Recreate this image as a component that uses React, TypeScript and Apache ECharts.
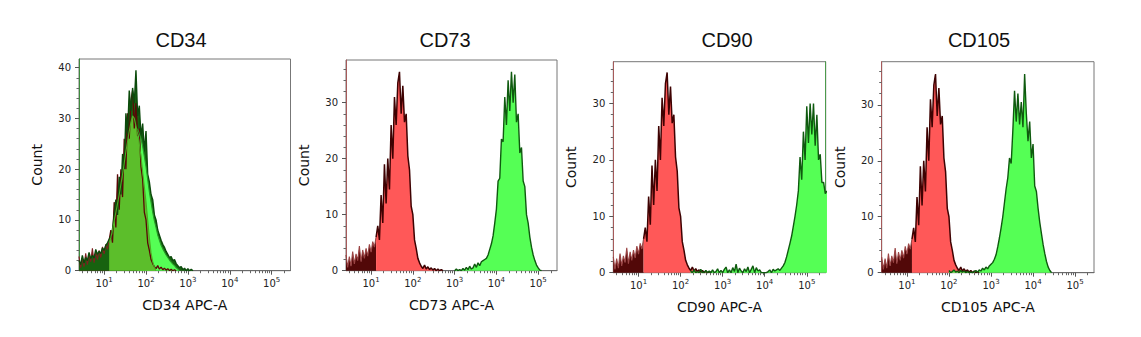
import React, { useEffect, useRef } from "react";
import * as echarts from "echarts";

// ---------- data (x = log10 of APC-A intensity, bin width 0.04 decade) ----------
const BIN = 0.04;
const titles = ["CD34", "CD73", "CD90", "CD105"];
const xNames = ["CD34 APC-A", "CD73 APC-A", "CD90 APC-A", "CD105 APC-A"];
const xTickDecades = [1, 2, 3, 4, 5];
const yTickLabelsCD34 = [0, 10, 20, 30, 40];
const yTickLabels = [0, 10, 20, 30];
const yMaxes = [41.7, 37.6, 37.4, 37.7];
const X_MIN = 0.4;
const X_MAX = 5.45;

// isotype control (red), shared by all panels
const isoLowStart = 0.4;
const isoLowCounts = [2.8, 0.6, 2.5, 0.8, 3.4, 1.2, 3.0, 1.8, 4.4, 1.6, 3.7, 2.2, 4.0, 2.6, 4.7, 3.3, 5.2, 4.2, 6.0];
const isoMainStart = 1.12;
const isoMainCounts = [
  6.0, 8.0, 5.5, 13.5, 8.5, 19.0, 12.0, 20.0, 14.5, 26.0, 20.0, 31.0, 26.0, 33.5, 35.5, 28.0, 33.0, 26.5, 28.0, 20.5,
  18.0, 11.5, 10.0, 5.5, 4.0, 2.2, 1.4, 0.8, 0.4, 1.0, 0.3, 0.7, 0.2, 0.5, 0.1, 0.4, 0, 0.3, 0, 0.2, 0,
];

// CD34 stained sample (green, overlapping the isotype)
const cd34EnvStart = 0.4;
const cd34EnvCounts = [
  2.0, 1.2, 3.0, 1.5, 2.6, 2.0, 3.6, 2.4, 3.0, 2.5, 4.2, 3.2, 3.8, 3.4, 4.5, 4.0, 5.0, 5.5, 6.2, 6.8, 8.2, 11.0, 14.0,
  11.0, 18.5, 15.0, 23.0, 20.0, 31.0, 27.0, 35.5, 31.5, 36.0, 33.0, 39.5, 30.5, 32.5, 26.5, 29.0, 23.5, 27.5, 19.0, 17.5,
  15.0, 14.0, 11.0, 10.0, 8.0, 7.0, 6.0, 5.2, 4.6, 3.8, 3.2, 2.6, 2.8, 2.0, 2.2, 1.4, 1.0, 0.6, 0.8, 0.2, 0.5, 0, 0.4, 0,
  0.3, 0,
];
const cd34MidStart = 1.12;
const cd34MidCounts = [
  5.5, 6.5, 8.0, 9.8, 11.5, 13.2, 15.0, 17.0, 19.0, 21.2, 23.5, 25.5, 27.5, 29.2, 30.5, 30.0, 28.5, 27.0, 25.0, 22.5,
  19.5, 16.5, 13.5, 10.0, 6.5, 3.5, 1.8, 0.6, 0,
];
const cd34BrightStart = 1.8;
const cd34BrightCounts = [
  28, 27, 26, 24.5, 22.5, 20.5, 18, 15.5, 13.5, 11.5, 9.8, 8.5, 7, 6, 5, 4.3, 3.7, 3.1, 2.6, 2.1, 1.7, 1.3, 1.0, 0.6, 0.3,
  0,
];

// CD73 stained sample
const cd73Start = 3.0;
const cd73Counts = [
  0, 0.3, 0, 0.2, 0, 0.4, 0.1, 0.6, 0.2, 0.8, 0.3, 0.5, 1.2, 0.6, 1.4, 0.9, 1.6, 1.8, 2.0, 2.2, 2.8, 3.8, 4.8, 6.2, 8.5,
  11.0, 16.0, 16.5, 23.5, 23.0, 31.0, 26.0, 34.0, 28.5, 35.5, 30.0, 35.0, 26.5, 28.0, 21.0, 22.0, 16.0, 15.0, 10.0, 8.5,
  6.0, 4.2, 2.8, 1.8, 1.0, 0.5, 0.1, 0,
];

// CD90 stained sample
const cd90Start = 2.24;
const cd90Counts = [
  0.3, 0, 0.5, 0, 0.2, 0, 0.6, 0, 0.1, 0.4, 0, 0.3, 0, 0.5, 0, 0.2, 0.7, 0, 0.4, 0, 0.6, 1.0, 0, 0.5, 0, 0.9, 0.2, 1.5,
  0, 0.8, 0.3, 0, 0.7, 0.2, 1.0, 0, 0.6, 1.2, 0, 0.9, 0.3, 0.5, 0, 0, 0, 0, 0.2, 0.5, 0, 0.6, 0.3, 0.5, 0.7, 0.4, 0.8,
  1.2, 1.8, 2.8, 4.0, 5.2, 6.5, 8.2, 10.0, 12.0, 14.5, 20.5, 16.5, 25.0, 20.0, 29.5, 23.0, 30.0, 24.5, 30.0, 22.5, 28.0,
  20.0, 21.0, 16.0, 16.0, 14.0, 14.5,
];

// CD105 stained sample
const cd105Start = 2.0;
const cd105Counts = [
  0.4, 0, 0.2, 0.5, 0.1, 0.3, 0, 0.4, 0.1, 0.3, 0, 0.2, 0, 0.1, 0, 0.2, 0.4, 0.1, 0.5, 0.3, 0.8, 0.5, 1.0, 0.7, 1.2, 1.5,
  1.8, 2.4, 3.2, 4.6, 6.2, 8.0, 10.0, 12.5, 15.0, 17.0, 20.5, 19.5, 25.5, 32.5, 27.0, 32.0, 26.5, 30.5, 26.0, 35.5, 28.5,
  23.5, 27.0, 20.5, 23.0, 15.5, 14.5, 11.5, 9.0, 7.0, 5.0, 3.4, 2.0, 1.0, 0.4, 0,
];

const stainedStarts = [cd73Start, cd90Start, cd105Start];
const stainedCounts = [cd73Counts, cd90Counts, cd105Counts];

// ---------- styling / layout ----------
const SANS = "DejaVu Sans";
const grids = [
  { left: 79, top: 59, width: 211.5, height: 211.7 },
  { left: 346, top: 60, width: 211, height: 210.7 },
  { left: 613.3, top: 61.7, width: 212.4, height: 211 },
  { left: 881.7, top: 61.7, width: 212.3, height: 211 },
];
const titleX = [181, 445, 727, 979];
const leftAxisColors = ["#3d8a3d", "#a65a5a", "#a65a5a", "#a65a5a"];

function pts(start: number, counts: number[]) {
  return counts.map((c, i) => [Math.round((start + i * BIN) * 100) / 100, c]);
}

const minorX: number[] = [];
for (let k = 0; k <= 5; k++) {
  for (let m = 2; m <= 9; m++) {
    const v = Math.log10(m * Math.pow(10, k));
    if (v > X_MIN && v < X_MAX) minorX.push(v);
  }
}

function minorY(max: number) {
  const out: number[] = [];
  for (let v = 2; v < max; v += 2) if (v % 10 !== 0) out.push(v);
  return out;
}

function area(gi: number, data: number[][], fill: string, stroke: string, width = 1.1) {
  return {
    type: "line",
    xAxisIndex: gi * 2,
    yAxisIndex: gi * 2,
    data,
    symbol: "none",
    showSymbol: false,
    silent: true,
    clip: true,
    lineStyle: { color: stroke, width },
    areaStyle: { color: fill, opacity: 1 },
    emphasis: { disabled: true },
  };
}

export default function App() {
  const ref = useRef<HTMLDivElement>(null);
  useEffect(() => {
    if (!ref.current) return;
    const chart = echarts.init(ref.current, null, { renderer: "svg" });

    const xAxis: any[] = [];
    const yAxis: any[] = [];
    grids.forEach((_, gi) => {
      xAxis.push({
        type: "value",
        gridIndex: gi,
        position: "bottom",
        min: X_MIN,
        max: X_MAX,
        name: xNames[gi],
        nameLocation: "middle",
        nameGap: 27,
        nameTextStyle: { fontFamily: SANS, fontSize: 14, color: "#111" },
        axisLine: { show: true, lineStyle: { color: "#6a6a6a", width: 1 } },
        axisTick: { show: true, customValues: xTickDecades, length: 4, lineStyle: { color: "#555" } },
        axisLabel: {
          customValues: xTickDecades,
          margin: 6,
          formatter: (v: number) => `{b|10}{s|${Math.round(v)}}`,
          rich: {
            b: { fontFamily: SANS, fontSize: 10, color: "#222", lineHeight: 14 },
            s: { fontFamily: SANS, fontSize: 7, color: "#222", verticalAlign: "top", lineHeight: 9 },
          },
        },
        splitLine: { show: false },
      });
      xAxis.push({
        type: "value",
        gridIndex: gi,
        position: "bottom",
        min: X_MIN,
        max: X_MAX,
        axisLine: { show: false },
        axisTick: { show: true, customValues: minorX, length: 2.5, lineStyle: { color: "#666" } },
        axisLabel: { show: false },
        splitLine: { show: false },
      });
      const ymax = yMaxes[gi];
      const ylabels = gi === 0 ? yTickLabelsCD34 : yTickLabels;
      yAxis.push({
        type: "value",
        gridIndex: gi,
        position: "left",
        min: 0,
        max: ymax,
        name: "Count",
        nameLocation: "middle",
        nameGap: 35,
        nameTextStyle: { fontFamily: SANS, fontSize: 14, color: "#111" },
        axisLine: { show: true, lineStyle: { color: leftAxisColors[gi], width: 1 } },
        axisTick: { show: true, customValues: ylabels, length: 4, lineStyle: { color: "#555" } },
        axisLabel: { customValues: ylabels, margin: 8, fontFamily: SANS, fontSize: 10, color: "#222" },
        splitLine: { show: false },
      });
      yAxis.push({
        type: "value",
        gridIndex: gi,
        position: "left",
        min: 0,
        max: ymax,
        axisLine: { show: false },
        axisTick: { show: true, customValues: minorY(ymax), length: 2.5, lineStyle: { color: "#666" } },
        axisLabel: { show: false },
        splitLine: { show: false },
      });
    });
    // green right edge of the CD90 frame
    yAxis.push({
      type: "value",
      gridIndex: 2,
      position: "right",
      min: 0,
      max: yMaxes[2],
      axisLine: { show: true, lineStyle: { color: "#4c9a4c", width: 1 } },
      axisTick: { show: false },
      axisLabel: { show: false },
      splitLine: { show: false },
    });

    const series: any[] = [];
    // CD34 panel
    series.push(area(0, pts(isoLowStart, isoLowCounts), "#6a0e0e", "#7e2020"));
    series.push(area(0, pts(isoMainStart, isoMainCounts), "#6a0e0e", "#5a0606", 1.3));
    series.push(area(0, pts(cd34EnvStart, cd34EnvCounts), "#17620f", "#0b4a0b", 1.4));
    series.push(area(0, pts(cd34BrightStart, cd34BrightCounts), "#55ff55", "#2a9a2a"));
    series.push(area(0, pts(cd34MidStart, cd34MidCounts), "#5cbe2b", "#4faa24"));
    // CD73 / CD90 / CD105 panels
    for (let gi = 1; gi <= 3; gi++) {
      series.push(area(gi, pts(isoLowStart, isoLowCounts), "#520808", "#9a4444"));
      series.push(area(gi, pts(isoMainStart, isoMainCounts), "#ff5858", "#3e0202", 1.5));
      series.push(area(gi, pts(stainedStarts[gi - 1], stainedCounts[gi - 1]), "#55ff55", "#0f5a0f", 1.4));
    }

    chart.setOption({
      animation: false,
      backgroundColor: "#ffffff",
      title: titles.map((t, i) => ({
        text: t,
        left: titleX[i],
        top: 30,
        textAlign: "center",
        padding: 0,
        textStyle: { fontFamily: "Liberation Sans", fontSize: 20, fontWeight: "normal", color: "#111" },
      })),
      grid: grids.map((g) => ({
        ...g,
        outerBoundsMode: "none",
        containLabel: false,
        show: true,
        borderColor: "#777777",
        borderWidth: 1,
        backgroundColor: "transparent",
      })),
      xAxis,
      yAxis,
      series,
    });
    return () => chart.dispose();
  }, []);
  return (
    <div
      ref={ref}
      style={{ position: "fixed", left: 0, top: 0, width: 1141, height: 337, background: "#fff" }}
    />
  );
}
